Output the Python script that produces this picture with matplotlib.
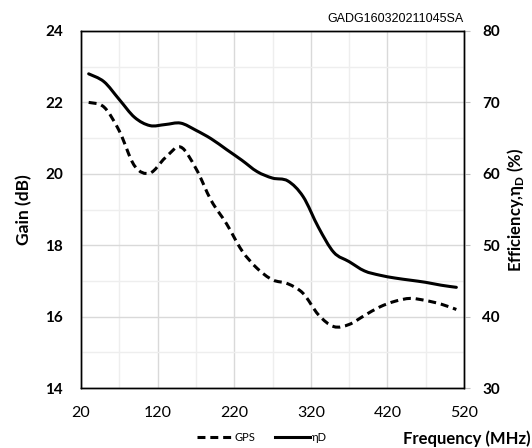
import numpy as np
import matplotlib
matplotlib.use("Agg")
import matplotlib.pyplot as plt
from matplotlib.path import Path
from matplotlib.patches import PathPatch
from matplotlib.lines import Line2D

plt.rcParams['font.family'] = ['Lato', 'DejaVu Sans']
plt.rcParams['mathtext.fontset'] = 'custom'
plt.rcParams['mathtext.rm'] = 'Lato'
plt.rcParams['mathtext.bf'] = 'Lato:bold'

# Frequency sweep (MHz)
freq = [30, 50, 70, 90, 110, 130, 150, 170, 190, 210, 230, 250, 270,
        290, 310, 330, 350, 370, 390, 410, 430, 450, 470, 490, 510]

# Power gain (dB)
gain = [22.0, 21.87, 21.2, 20.22, 20.02, 20.45, 20.75, 20.15, 19.25, 18.6,
        17.85, 17.35, 17.03, 16.92, 16.65, 16.05, 15.72, 15.78, 16.03, 16.27,
        16.43, 16.51, 16.45, 16.35, 16.2]

# Drain efficiency (%)
eff = [74.0, 72.9, 70.4, 67.9, 66.75, 66.9, 67.1, 66.1, 64.9, 63.4,
       61.9, 60.3, 59.4, 59.0, 56.8, 52.5, 49.0, 47.7, 46.4, 45.8,
       45.4, 45.1, 44.8, 44.4, 44.1]


def smooth_path(x, y):
    # Excel-style smoothed line: Catmull-Rom segments as cubic Beziers
    p = np.column_stack([x, y]).astype(float)
    verts = [p[0]]
    codes = [Path.MOVETO]
    n = len(p)
    for i in range(n - 1):
        p0 = p[max(i - 1, 0)]
        p1 = p[i]
        p2 = p[i + 1]
        p3 = p[min(i + 2, n - 1)]
        verts += [p1 + (p2 - p0) / 6, p2 - (p3 - p1) / 6, p2]
        codes += [Path.CURVE4] * 3
    return Path(verts, codes)


fig = plt.figure(figsize=(5.32, 4.48), dpi=100)
ax = fig.add_axes([81 / 532, 1 - 388 / 448, (464 - 81) / 532, (388 - 31) / 448])
ax2 = ax.twinx()

ax.set_xlim(20, 520)
ax.set_ylim(14, 24)
ax.set_xticks(np.arange(20, 521, 100))
ax.set_xticks(np.arange(70, 520, 100), minor=True)
ax.set_yticks(np.arange(14, 25, 2))
ax.set_yticks(np.arange(15, 24, 2), minor=True)
ax.grid(which='major', color='#d9d9d9', lw=1.0)
ax.grid(which='minor', color='#eeeeee', lw=1.0)
ax.set_axisbelow(True)

ax2.set_ylim(30, 80)
ax2.set_yticks(np.arange(30, 81, 10))

ax.add_patch(PathPatch(smooth_path(freq, gain), fill=False, edgecolor='black',
                       lw=2.2, linestyle=(0, (2.6, 1.6)), capstyle='butt'))
ax2.add_patch(PathPatch(smooth_path(freq, eff), fill=False, edgecolor='black',
                        lw=2.2, capstyle='round'))

for a in (ax, ax2):
    for s in a.spines.values():
        s.set_color('black')
        s.set_linewidth(1.0)

ax.tick_params(axis='both', which='both', length=0)
ax.tick_params(axis='y', labelsize=11, pad=13)
ax.tick_params(axis='x', pad=13, labelsize=11.5)
ax2.tick_params(axis='y', length=4, color='#bfbfbf', labelsize=11, pad=9)
for lbl in ax.get_yticklabels() + ax2.get_yticklabels():
    lbl.set_fontweight('bold')

ax.set_ylabel('Gain (dB)', fontsize=12.5, fontweight='bold', labelpad=9)
ax2.set_ylabel(r'Efficiency,η$_\mathbf{D}$ (%)', fontsize=12, fontweight='bold',
               labelpad=4)

fig.text(464 / 532, 1 - 22 / 448, 'GADG160320211045SA', ha='right', va='baseline',
         fontsize=9, family='Liberation Sans')
fig.text(531 / 532, 1 - 439 / 448, 'Frequency (MHz)', ha='right', va='center',
         fontsize=12, fontweight='bold')

handles = [Line2D([], [], color='black', lw=2.2, dashes=(2.6, 1.6)),
           Line2D([], [], color='black', lw=2.2)]
fig.legend(handles, ['GPS', 'ηD'], loc='center', bbox_to_anchor=(262 / 532, 1 - 437 / 448),
           ncol=2, frameon=False, fontsize=8, handlelength=3.2, handletextpad=0.1,
           columnspacing=1.8)

fig.savefig('out.png', dpi=100)
